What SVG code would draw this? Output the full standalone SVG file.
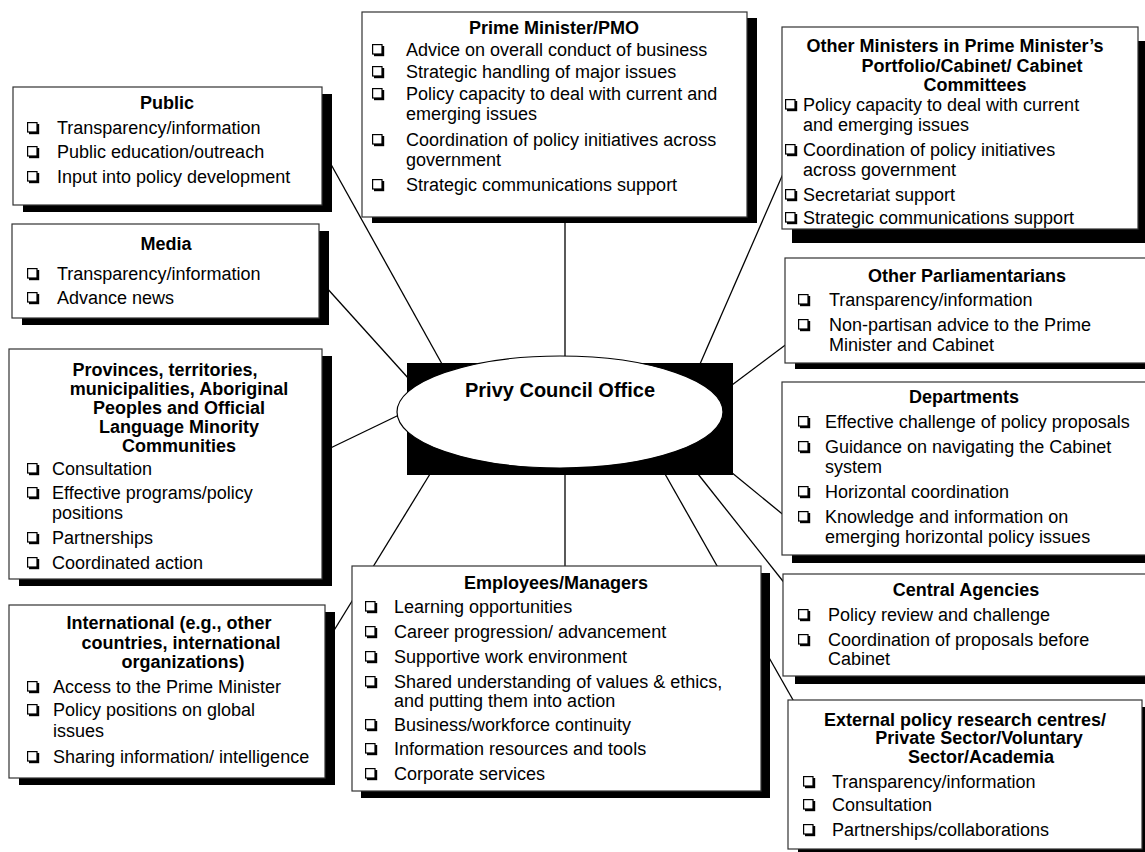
<svg xmlns="http://www.w3.org/2000/svg" xmlns:xlink="http://www.w3.org/1999/xlink" width="1145" height="852" viewBox="0 0 1145 852">
<style>
.bg{fill:#fff}
.box{fill:#fff;stroke:#333;stroke-width:1.2}
.sh{fill:#000}
.ln{stroke:#000;stroke-width:1.3;fill:none}
text{font-family:"Liberation Sans",Arial,sans-serif;font-size:18px;fill:#000}
.t{font-weight:bold;text-anchor:middle}
.c{font-weight:bold;font-size:20px;text-anchor:middle}
</style>
<defs>
<g id="cb"><rect x="2" y="2" width="10.2" height="10.2" fill="#000"/><rect x="0.6" y="0.6" width="9.4" height="9.4" fill="#fff" stroke="#000" stroke-width="1.2"/></g>
</defs>
<rect class="bg" x="0" y="0" width="1145" height="852"/>
<g id="connectors">
<line class="ln" x1="565" y1="215" x2="565" y2="357"/>
<line class="ln" x1="318" y1="141" x2="442" y2="364"/>
<line class="ln" x1="316" y1="276" x2="409" y2="379"/>
<line class="ln" x1="318" y1="454" x2="399" y2="415"/>
<line class="ln" x1="430" y1="474" x2="322" y2="650"/>
<line class="ln" x1="565" y1="474" x2="565" y2="567"/>
<line class="ln" x1="665" y1="474" x2="797" y2="707"/>
<line class="ln" x1="698" y1="474" x2="786" y2="585"/>
<line class="ln" x1="731" y1="472" x2="786" y2="517"/>
<line class="ln" x1="732" y1="385" x2="788" y2="343"/>
<line class="ln" x1="700" y1="364" x2="786" y2="167"/>
</g>
<g id="pco">
<rect x="407" y="363" width="326" height="112" fill="#000"/>
<ellipse cx="560" cy="412" rx="163" ry="56" fill="#fff" stroke="#000" stroke-width="1.2"/>
<text class="c" x="560" y="397">Privy Council Office</text>
</g>
<g id="public">
<rect class="sh" x="23" y="94" width="309" height="118"/>
<rect class="box" x="13" y="87" width="309" height="118"/>
<text class="t" x="167" y="109">Public</text>
<use xlink:href="#cb" x="27" y="122"/><text x="57" y="134">Transparency/information</text>
<use xlink:href="#cb" x="27" y="146"/><text x="57" y="158">Public education/outreach</text>
<use xlink:href="#cb" x="27" y="171"/><text x="57" y="183">Input into policy development</text>
</g>
<g id="media">
<rect class="sh" x="22" y="231" width="307" height="94"/>
<rect class="box" x="12" y="224" width="307" height="94"/>
<text class="t" x="166" y="250">Media</text>
<use xlink:href="#cb" x="27" y="268"/><text x="57" y="280">Transparency/information</text>
<use xlink:href="#cb" x="27" y="292"/><text x="57" y="304">Advance news</text>
</g>
<g id="provinces">
<rect class="sh" x="19" y="356" width="313" height="230"/>
<rect class="box" x="9" y="349" width="313" height="230"/>
<text class="t" x="165" y="376">Provinces, territories,</text>
<text class="t" x="179" y="395">municipalities, Aboriginal</text>
<text class="t" x="179" y="414">Peoples and Official</text>
<text class="t" x="179" y="433">Language Minority</text>
<text class="t" x="179" y="452">Communities</text>
<use xlink:href="#cb" x="27" y="463"/><text x="52" y="475">Consultation</text>
<use xlink:href="#cb" x="27" y="487"/><text x="52" y="499">Effective programs/policy</text>
<text x="52" y="519">positions</text>
<use xlink:href="#cb" x="27" y="532"/><text x="52" y="544">Partnerships</text>
<use xlink:href="#cb" x="27" y="557"/><text x="52" y="569">Coordinated action</text>
</g>
<g id="international">
<rect class="sh" x="19" y="612" width="316" height="173"/>
<rect class="box" x="9" y="605" width="316" height="173"/>
<text class="t" x="169" y="629">International (e.g., other</text>
<text class="t" x="181" y="649">countries, international</text>
<text class="t" x="183" y="668">organizations)</text>
<use xlink:href="#cb" x="27" y="681"/><text x="53" y="693">Access to the Prime Minister</text>
<use xlink:href="#cb" x="27" y="704"/><text x="53" y="716">Policy positions on global</text>
<text x="53" y="737">issues</text>
<use xlink:href="#cb" x="27" y="751"/><text x="53" y="763">Sharing information/ intelligence</text>
</g>
<g id="pm">
<rect class="sh" x="372" y="18" width="385" height="205"/>
<rect class="box" x="362" y="12" width="385" height="205"/>
<text class="t" x="554" y="34">Prime Minister/PMO</text>
<use xlink:href="#cb" x="372" y="44"/><text x="406" y="56">Advice on overall conduct of business</text>
<use xlink:href="#cb" x="372" y="66"/><text x="406" y="78">Strategic handling of major issues</text>
<use xlink:href="#cb" x="372" y="88"/><text x="406" y="100">Policy capacity to deal with current and</text>
<text x="406" y="120">emerging issues</text>
<use xlink:href="#cb" x="372" y="134"/><text x="406" y="146">Coordination of policy initiatives across</text>
<text x="406" y="166">government</text>
<use xlink:href="#cb" x="372" y="179"/><text x="406" y="191">Strategic communications support</text>
</g>
<g id="ministers">
<rect class="sh" x="792" y="41" width="356" height="202"/>
<rect class="box" x="782" y="27" width="356" height="202"/>
<text class="t" x="955" y="52">Other Ministers in Prime Minister’s</text>
<text class="t" x="972" y="72">Portfolio/Cabinet/ Cabinet</text>
<text class="t" x="975" y="91">Committees</text>
<use xlink:href="#cb" x="785" y="99"/><text x="803" y="111">Policy capacity to deal with current</text>
<text x="803" y="131">and emerging issues</text>
<use xlink:href="#cb" x="785" y="144"/><text x="803" y="156">Coordination of policy initiatives</text>
<text x="803" y="176">across government</text>
<use xlink:href="#cb" x="785" y="189"/><text x="803" y="201">Secretariat support</text>
<use xlink:href="#cb" x="785" y="212"/><text x="803" y="224">Strategic communications support</text>
</g>
<g id="parliamentarians">
<rect class="sh" x="795" y="264" width="364" height="105"/>
<rect class="box" x="785" y="258" width="364" height="105"/>
<text class="t" x="967" y="282">Other Parliamentarians</text>
<use xlink:href="#cb" x="798" y="294"/><text x="829" y="306">Transparency/information</text>
<use xlink:href="#cb" x="798" y="319"/><text x="829" y="331">Non-partisan advice to the Prime</text>
<text x="829" y="351">Minister and Cabinet</text>
</g>
<g id="departments">
<rect class="sh" x="792" y="390" width="364" height="173"/>
<rect class="box" x="782" y="382" width="364" height="173"/>
<text class="t" x="964" y="403">Departments</text>
<use xlink:href="#cb" x="798" y="416"/><text x="825" y="428">Effective challenge of policy proposals</text>
<use xlink:href="#cb" x="798" y="441"/><text x="825" y="453">Guidance on navigating the Cabinet</text>
<text x="825" y="473">system</text>
<use xlink:href="#cb" x="798" y="486"/><text x="825" y="498">Horizontal coordination</text>
<use xlink:href="#cb" x="798" y="511"/><text x="825" y="523">Knowledge and information on</text>
<text x="825" y="543">emerging horizontal policy issues</text>
</g>
<g id="central">
<rect class="sh" x="795" y="582" width="366" height="102"/>
<rect class="box" x="783" y="574" width="366" height="102"/>
<text class="t" x="966" y="596">Central Agencies</text>
<use xlink:href="#cb" x="798" y="609"/><text x="828" y="621">Policy review and challenge</text>
<use xlink:href="#cb" x="798" y="634"/><text x="828" y="646">Coordination of proposals before</text>
<text x="828" y="665">Cabinet</text>
</g>
<g id="external">
<rect class="sh" x="798" y="707" width="354" height="149"/>
<rect class="box" x="788" y="700" width="354" height="149"/>
<text class="t" x="965" y="726">External policy research centres/</text>
<text class="t" x="979" y="744">Private Sector/Voluntary</text>
<text class="t" x="981" y="763">Sector/Academia</text>
<use xlink:href="#cb" x="803" y="776"/><text x="832" y="788">Transparency/information</text>
<use xlink:href="#cb" x="803" y="799"/><text x="832" y="811">Consultation</text>
<use xlink:href="#cb" x="803" y="824"/><text x="832" y="836">Partnerships/collaborations</text>
</g>
<g id="employees">
<rect class="sh" x="361" y="573" width="409" height="225"/>
<rect class="box" x="352" y="566" width="409" height="225"/>
<text class="t" x="556" y="589">Employees/Managers</text>
<use xlink:href="#cb" x="365" y="601"/><text x="394" y="613">Learning opportunities</text>
<use xlink:href="#cb" x="365" y="626"/><text x="394" y="638">Career progression/ advancement</text>
<use xlink:href="#cb" x="365" y="651"/><text x="394" y="663">Supportive work environment</text>
<use xlink:href="#cb" x="365" y="676"/><text x="394" y="688">Shared understanding of values &amp; ethics,</text>
<text x="394" y="707">and putting them into action</text>
<use xlink:href="#cb" x="365" y="719"/><text x="394" y="731">Business/workforce continuity</text>
<use xlink:href="#cb" x="365" y="743"/><text x="394" y="755">Information resources and tools</text>
<use xlink:href="#cb" x="365" y="768"/><text x="394" y="780">Corporate services</text>
</g>
</svg>
